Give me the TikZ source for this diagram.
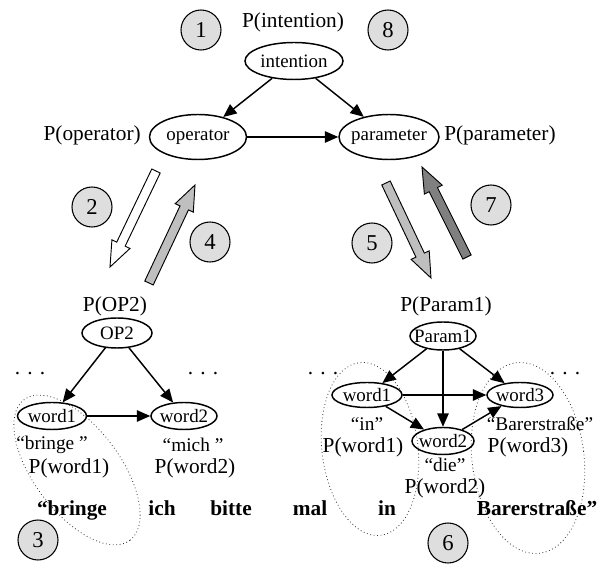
\documentclass[tikz,border=0pt]{standalone}
\usepackage{fontspec}
\setmainfont{Liberation Serif}
\usetikzlibrary{shapes.geometric,arrows.meta,calc}

\tikzset{
 ell/.style={draw, ellipse, line width=1.1pt, inner xsep=-10pt, inner ysep=-4pt, font=\fontsize{14.2}{15}\selectfont},
 lab/.style={inner sep=0pt, font=\fontsize{16}{18}\selectfont},
 quo/.style={inner sep=0pt, font=\fontsize{14.5}{16}\selectfont},
 sent/.style={inner sep=0pt, anchor=base, font=\fontsize{16}{18}\selectfont\bfseries},
 num/.style={draw, circle, line width=0.8pt, fill=black!13, minimum size=30pt, inner sep=0pt, font=\fontsize{17}{19}\selectfont},
 conn/.style={line width=1.1pt, -{Triangle[length=10pt,width=8.5pt]}},
 grp/.style={dotted, line width=0.6pt, black!80},
 blk/.style={draw=black, line width=0.7pt, line join=miter}
}

\newcommand\blockarrow[3]{%
  \path ($(#3)!19pt!(#2)$) coordinate (hb);
  \filldraw[blk, fill=#1] ($(#2)!3.5pt!90:(#3)$) -- ($(hb)!3.5pt!90:(#3)$) -- ($(hb)!7.5pt!90:(#3)$) -- (#3)
     -- ($(hb)!7.5pt!-90:(#3)$) -- ($(hb)!3.5pt!-90:(#3)$) -- ($(#2)!3.5pt!-90:(#3)$) -- cycle;}

\begin{document}
\begin{tikzpicture}[x=0.75pt, y=-0.75pt]
\useasboundingbox (0,0) rectangle (601,566);

% group outlines
\draw[grp, rotate around={-53:(77,470)}] (77,470) ellipse [x radius=88, y radius=43];
\draw[grp, rotate around={7:(370,449)}] (370,449) ellipse [x radius=48, y radius=87];
\draw[grp, rotate around={7:(528,458)}] (528,458) ellipse [x radius=56, y radius=96];

% top level
\node[num] (c1) at (201,30) {1};
\node[num] (c8) at (388,30) {8};
\node[lab] (pint) at (293,22) {P(intention)};
\node[ell, minimum width=73.5pt, minimum height=27.75pt] (int) at (294,61) {intention};
\node[ell, minimum width=72.75pt, minimum height=33.75pt] (op) at (198,137) {operator};
\node[ell, minimum width=75pt, minimum height=33.75pt] (par) at (389,137) {parameter};
\node[lab, anchor=east] (pop) at (141,135) {P(operator)};
\node[lab, anchor=west] (ppar) at (444,135) {P(parameter)};
\draw[conn] (int) -- (op);
\draw[conn] (int) -- (par);
\draw[conn] (op) -- (par);

% block arrows
\coordinate (a2t) at (156,171); \coordinate (a2h) at (110,267);
\coordinate (a4t) at (149,283); \coordinate (a4h) at (195,185);
\coordinate (a5t) at (386,183); \coordinate (a5h) at (431,278);
\coordinate (a7t) at (467,257); \coordinate (a7h) at (422,167);
\blockarrow{white}{a2t}{a2h}
\blockarrow{black!25}{a4t}{a4h}
\blockarrow{black!25}{a5t}{a5h}
\blockarrow{black!50}{a7t}{a7h}
\node[num] (c2) at (92,207) {2};
\node[num] (c4) at (210,242) {4};
\node[num] (c5) at (372,243) {5};
\node[num] (c7) at (491,205) {7};

% left graph
\node[lab] (pop2) at (115,306) {P(OP2)};
\node[ell, minimum width=52.5pt, minimum height=22.5pt] (op2) at (117,333) {OP2};
\node[ell, minimum width=51.75pt, minimum height=20.25pt] (lw1) at (52,416) {word1};
\node[ell, minimum width=49.5pt, minimum height=20.25pt] (lw2) at (184,416) {word2};
\node[lab] (ld1) at (30,374) {. . .};
\node[lab] (ld2) at (203,374) {. . .};
\node[quo] (lq1) at (52,445) {“bringe ”};
\node[lab] (lp1) at (69,468) {P(word1)};
\node[quo] (lq2) at (193,445) {“mich ”};
\node[lab] (lp2) at (195,468) {P(word2)};
\draw[conn] (op2) -- (lw1);
\draw[conn] (op2) -- (lw2);
\draw[conn] (lw1) -- (lw2);

% right graph
\node[lab] (ppar1) at (446,306) {P(Param1)};
\node[ell, minimum width=49.5pt, minimum height=21pt] (p1) at (443,336) {Param1};
\node[ell, minimum width=52.5pt, minimum height=18.75pt] (rw1) at (367,395) {word1};
\node[ell, minimum width=46.5pt, minimum height=20.25pt] (rw2) at (443,441) {word2};
\node[ell, minimum width=49.5pt, minimum height=18.75pt] (rw3) at (520,395) {word3};
\node[lab] (rd1) at (323,374) {. . .};
\node[lab] (rd2) at (565,374) {. . .};
\node[quo] (rq1) at (367,424) {“in”};
\node[lab] (rp1) at (363,447) {P(word1)};
\node[quo] (rq3) at (540,424) {“Barerstraße”};
\node[lab] (rp3) at (528,447) {P(word3)};
\node[quo] (rq2) at (445,465) {“die”};
\node[lab] (rp2) at (445,488) {P(word2)};
\draw[conn] (p1) -- (rw1);
\draw[conn] (p1) -- (rw2);
\draw[conn] (p1) -- (rw3);
\draw[conn] (rw1) -- (rw3);
\draw[conn] (rw1) -- (rw2);
\draw[conn] (rw2) -- (rw3);

% sentence
\node[sent] (s1) at (72,516) {“bringe};
\node[sent] (s2) at (162,516) {ich};
\node[sent] (s3) at (231,516) {bitte};
\node[sent] (s4) at (310,516) {mal};
\node[sent] (s5) at (387,516) {in};
\node[sent] (s6) at (537,516) {Barerstraße”};

\node[num] (c3) at (38,540) {3};
\node[num] (c6) at (448,543) {6};
\end{tikzpicture}
\end{document}
